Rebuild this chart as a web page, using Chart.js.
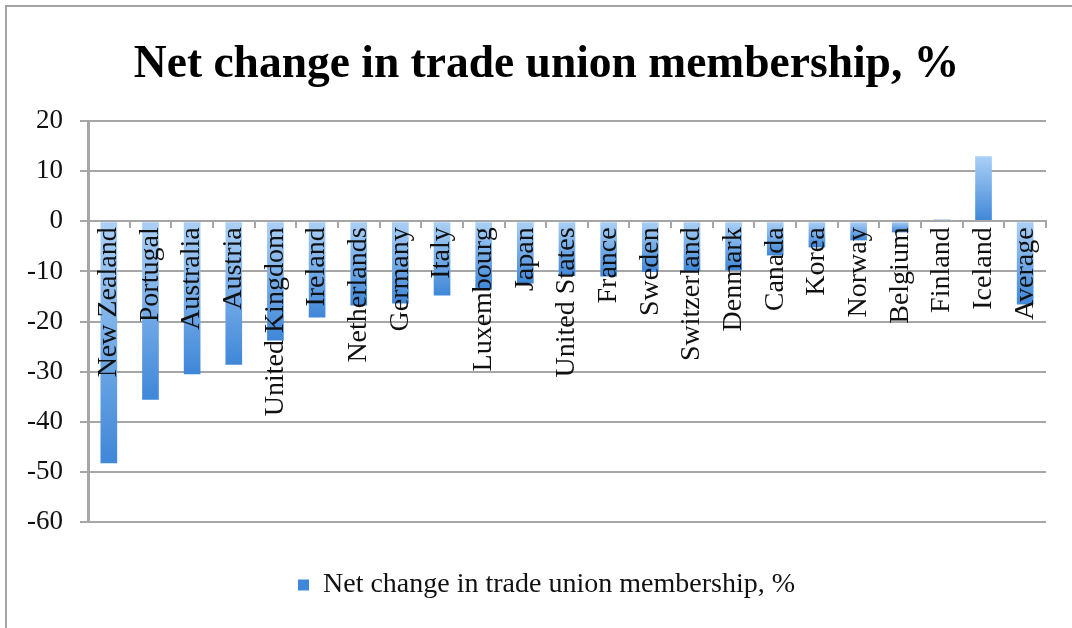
<!DOCTYPE html>
<html>
<head>
<meta charset="utf-8">
<script src="https://cdn.jsdelivr.net/npm/chart.js@4"></script>
<style>
  html, body { margin: 0; padding: 0; background: #fff; overflow: hidden; }
  #wrap { position: relative; width: 1072px; height: 628px; overflow: hidden; }
  #frame { position: absolute; left: 5px; top: 5px; width: 1100px; height: 700px;
    border-left: 2px solid #a3a3a3; border-top: 2px solid #a3a3a3; pointer-events: none; }
</style>
</head>
<body>
<div id="wrap">
  <canvas id="chart" width="1072" height="628"></canvas>
  <div id="frame"></div>
</div>
<script>
const countries = ["New Zealand", "Portugal", "Australia", "Austria", "United Kingdom", "Ireland",
  "Netherlands", "Germany", "Italy", "Luxembourg", "Japan", "United States", "France", "Sweden",
  "Switzerland", "Denmark", "Canada", "Korea", "Norway", "Belgium", "Finland", "Iceland", "Average"];
const netChange = [-48.3, -35.6, -30.5, -28.6, -23.8, -19.2, -16.8, -16.4, -14.8, -13.6, -12.4,
  -10.9, -11, -10.1, -10, -9.8, -6.8, -5.2, -3.8, -2.2, 0.4, 13, -16.6];
const seriesName = "Net change in trade union membership, %";
const yTicks = { min: -60, max: 20, step: 10 };

const serif = "'Liberation Serif', 'DejaVu Serif', serif";
const gridGray = "#a6a6a6";

const barFill = (ctx) => {
  const chart = ctx.chart;
  const v = ctx.raw;
  if (!chart.chartArea || typeof v !== "number") return "#7fb0ea";
  const y = chart.scales.y;
  const a = y.getPixelForValue(0);
  const b = y.getPixelForValue(v);
  const top = Math.min(a, b), bot = Math.max(a, b);
  if (bot - top < 2) return "#9cc4f1";
  const g = chart.ctx.createLinearGradient(0, top, 0, bot);
  g.addColorStop(0, "#abd0f6");
  g.addColorStop(1, "#3f87d8");
  return g;
};

new Chart(document.getElementById("chart").getContext("2d"), {
  type: "bar",
  data: {
    labels: countries,
    datasets: [{
      label: seriesName,
      data: netChange,
      backgroundColor: barFill,
      borderWidth: 0,
      barPercentage: 0.4,
      categoryPercentage: 1
    }]
  },
  options: {
    responsive: false,
    animation: false,
    layout: { padding: { left: 21, right: 0, top: 0, bottom: 19 } },
    plugins: {
      title: {
        display: true,
        text: seriesName,
        color: "#000",
        font: { family: serif, size: 45.5, weight: "bold", lineHeight: 1.2 },
        padding: { top: 38, bottom: 28.5 }
      },
      legend: {
        position: "bottom",
        labels: {
          color: "#111",
          font: { family: serif, size: 28 },
          boxWidth: 11,
          boxHeight: 11,
          padding: 49
        }
      },
      tooltip: { enabled: false }
    },
    scales: {
      x: {
        type: "category",
        position: { y: 0 },
        offset: true,
        grid: {
          display: true,
          offset: true,
          drawOnChartArea: false,
          drawTicks: true,
          tickLength: 6,
          color: gridGray,
          lineWidth: 2,
          z: 1
        },
        border: { display: true, color: gridGray, width: 2, z: 1 },
        ticks: {
          autoSkip: false,
          minRotation: 90,
          maxRotation: 90,
          padding: 0,
          color: "#111",
          font: { family: serif, size: 28 },
          z: 2
        }
      },
      y: {
        min: yTicks.min,
        max: yTicks.max,
        afterFit: (s) => { s.width = 67; },
        grid: { color: gridGray, lineWidth: 2, tickLength: 8 },
        border: { display: true, color: gridGray, width: 3 },
        ticks: {
          stepSize: yTicks.step,
          padding: 17,
          color: "#111",
          font: { family: serif, size: 27 }
        }
      },
      // empty right-hand gutter so the title and legend centre like the original
      gutter: {
        type: "linear",
        position: "right",
        grid: { display: false },
        border: { display: false },
        ticks: { display: false },
        afterFit: (s) => { s.width = 26; }
      }
    }
  }
});
</script>
</body>
</html>
